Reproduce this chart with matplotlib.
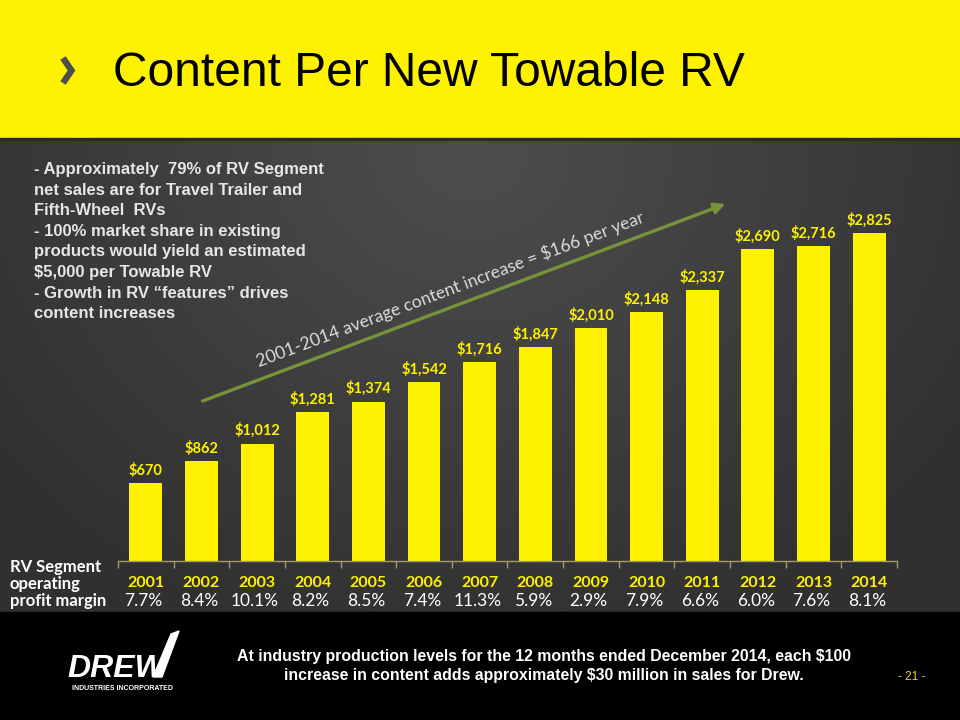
import numpy as np
import matplotlib
matplotlib.use("Agg")
import matplotlib.pyplot as plt
from matplotlib.lines import Line2D
from matplotlib.patches import Polygon, Rectangle

YEARS = ['2001', '2002', '2003', '2004', '2005', '2006', '2007',
         '2008', '2009', '2010', '2011', '2012', '2013', '2014']
CONTENT = [670, 862, 1012, 1281, 1374, 1542, 1716,
           1847, 2010, 2148, 2337, 2690, 2716, 2825]
MARGINS = ['7.7%', '8.4%', '10.1%', '8.2%', '8.5%', '7.4%', '11.3%',
           '5.9%', '2.9%', '7.9%', '6.6%', '6.0%', '7.6%', '8.1%']

TITLE = "Content Per New Towable RV"
BULLETS = [
    "- Approximately  79% of RV Segment",
    "net sales are for Travel Trailer and",
    "Fifth-Wheel  RVs",
    "- 100% market share in existing",
    "products would yield an estimated",
    "$5,000 per Towable RV",
    "- Growth in RV \u201cfeatures\u201d drives",
    "content increases",
]
ARROW_TEXT = "2001-2014 average content increase = $166 per year"
FOOTER = ["At industry production levels for the 12 months ended December 2014, each $100",
          "increase in content adds approximately $30 million in sales for Drew."]
ROW_LABEL = ["RV Segment", "operating", "profit margin"]

YELLOW = '#FFF200'
W, H = 960, 720

fig = plt.figure(figsize=(9.6, 7.2), dpi=100)
fig.patch.set_facecolor('black')

# background layer in pixel coordinates
bg = fig.add_axes([0, 0, 1, 1])
bg.set_xlim(0, W)
bg.set_ylim(H, 0)
bg.axis('off')

xx, yy = np.meshgrid(np.arange(W), np.arange(139, 612))
r = np.sqrt(((xx - 470) / 600.0) ** 2 + ((yy - 150) / 520.0) ** 2)
shade = 78 - 30 * np.clip(r, 0, 1)
img = np.dstack([shade, shade, shade]) / 255.0
bg.imshow(img, extent=(0, W, 612, 139), aspect='auto', zorder=0)
bg.add_patch(Rectangle((0, 0), W, 137.5, color=YELLOW, zorder=1))
bg.add_patch(Rectangle((0, 137.5), W, 2, color='#2a2a2a', zorder=1))
bg.add_patch(Rectangle((0, 612), W, 108, color='black', zorder=1))

# title with chevron
bg.add_line(Line2D([63, 71.5, 63], [58, 70.5, 83], lw=4.6, color='#4d4d4d',
                   solid_joinstyle='miter', solid_capstyle='butt', zorder=2))
bg.text(113, 86, TITLE, fontsize=34.5, family='Liberation Sans', color='black',
        va='baseline', ha='left', zorder=3)

# bullet text
for i, line in enumerate(BULLETS):
    bg.text(34, 174 + 20.6 * i, line, fontsize=12, fontweight='bold',
            family='Liberation Sans', color='#e6e6e6', va='baseline', zorder=3)

# trend arrow and its label
bg.annotate('', xy=(728, 203), xytext=(200, 402),
            arrowprops=dict(arrowstyle='-|>', color='#77933C', lw=2.4,
                            mutation_scale=16), zorder=3)
bg.text(450, 289, ARROW_TEXT, fontsize=12.6, family='Lato',
        color='#dcdcdc', rotation=20.6, rotation_mode='anchor',
        ha='center', va='center', zorder=3)

# row label
for i, line in enumerate(ROW_LABEL):
    bg.text(10, 572 + 17 * i, line, fontsize=12, fontweight='bold',
            family='Lato', color='white', va='baseline', zorder=3)

# footer
for i, line in enumerate(FOOTER):
    bg.text(544, 661 + 19 * i, line, fontsize=11.4, fontweight='bold',
            family='Liberation Sans', color='white', ha='center',
            va='baseline', zorder=3)
bg.text(912, 677, "- 21 -", fontsize=8.5, family='Liberation Sans',
        color='#e8dc30', ha='center', va='center', zorder=3)

# logo
bg.text(67, 677, "DREW", fontsize=23, fontweight='bold', style='italic',
        family='Liberation Sans', color='white', va='baseline', zorder=3)
bg.add_patch(Polygon([(153, 677), (162, 677), (179, 631), (171, 634)],
                     closed=True, color='white', zorder=3))
bg.text(122, 688.5, "INDUSTRIES INCORPORATED", fontsize=5, fontweight='bold',
        family='Liberation Sans', color='white', ha='center', va='center',
        zorder=3)

# bar chart
ax = fig.add_axes([118 / W, 159 / H, 779 / W, 348 / H])
ax.patch.set_alpha(0)
x = np.arange(len(YEARS))
ax.bar(x, CONTENT, width=0.59, color=YELLOW, zorder=2)
ax.set_xlim(-0.5, len(YEARS) - 0.5)
ax.set_ylim(0, 3000)
for s in ['top', 'right', 'left']:
    ax.spines[s].set_visible(False)
ax.spines['bottom'].set_color('#a59a6a')
ax.spines['bottom'].set_linewidth(1.0)
ax.set_yticks([])
ax.set_xticks(np.arange(-0.5, len(YEARS), 1))
ax.set_xticklabels([])
ax.tick_params(axis='x', direction='out', length=5, color='#a59a6a', width=1)

for i, v in enumerate(CONTENT):
    ax.annotate("${:,}".format(v), xy=(i, v), xytext=(0, 6), textcoords='offset points',
                ha='center', va='baseline', fontsize=10.5, fontweight='bold',
                family='Lato', color=YELLOW)
    ax.annotate(YEARS[i], xy=(i, 0), xycoords=('data', 'axes fraction'),
                xytext=(0, -15.5), textcoords='offset points', ha='center',
                va='center', fontsize=11.5, fontweight='bold', family='Lato',
                color=YELLOW)
    ax.annotate(MARGINS[i], xy=(i - 0.04, 0), xycoords=('data', 'axes fraction'),
                xytext=(0, -28.5), textcoords='offset points', ha='center',
                va='center', fontsize=12.5, family='Lato', color='white')

fig.savefig("out.png", dpi=100, facecolor=fig.get_facecolor())
